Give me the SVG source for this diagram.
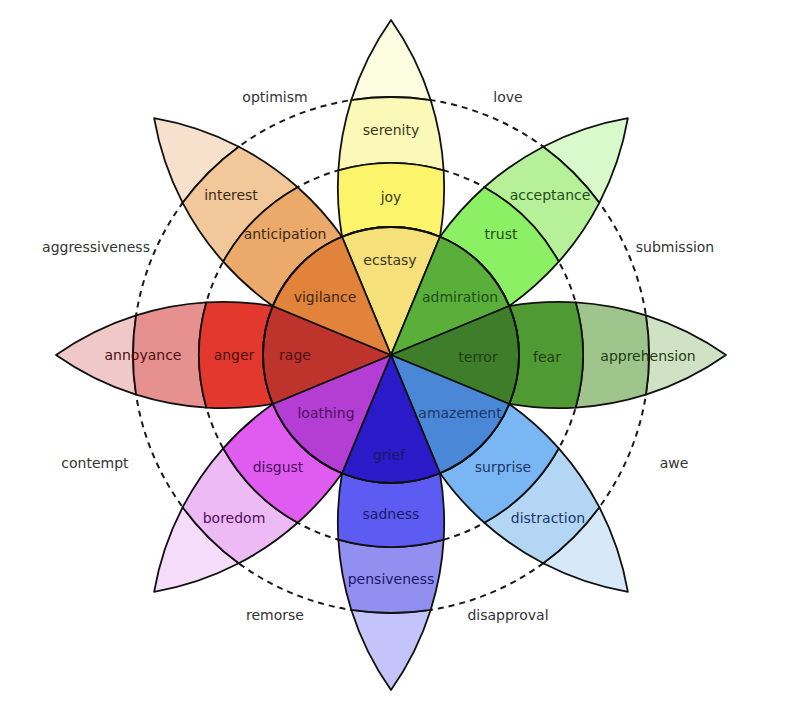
<svg xmlns="http://www.w3.org/2000/svg" xmlns:xlink="http://www.w3.org/1999/xlink" width="788" height="720" viewBox="0 0 788 720">
<style>
.s{stroke:#111;stroke-width:1.8;stroke-linejoin:round}
.ring{fill:none;stroke:#1a1a1a;stroke-width:2;stroke-dasharray:6 5}
text{font-family:"DejaVu Sans","Liberation Sans",sans-serif;font-size:14px;text-anchor:middle}
.o{fill:#333}
.ty{fill:#3a3520}.tg{fill:#1f4d15}.td{fill:#1d3d12}.tb{fill:#1b3766}
.ti{fill:#1a1866}.tp{fill:#4d0f5c}.tr{fill:#4d1010}.to{fill:#3b2815}
</style>
<defs>
<path id="wedge" d="M0,0 L-48.98,-118.26 A128,128 0 0 1 48.98,-118.26 Z"/>
<path id="band1" d="M-48.98,-118.26 A292,292 0 0 1 -52.67,-184.63 A192,192 0 0 1 52.67,-184.63 A292,292 0 0 1 48.98,-118.26 A128,128 0 0 0 -48.98,-118.26 Z"/>
<path id="band2" d="M-52.67,-184.63 A292,292 0 0 1 -39.68,-254.93 A258,258 0 0 1 39.68,-254.93 A292,292 0 0 1 52.67,-184.63 A192,192 0 0 0 -52.67,-184.63 Z"/>
<path id="tip" d="M-39.68,-254.93 A292,292 0 0 1 0,-335 A292,292 0 0 1 39.68,-254.93 A258,258 0 0 0 -39.68,-254.93 Z"/>
</defs>
<rect width="788" height="720" fill="#fff"/>
<g id="rings">
<circle class="ring" cx="391" cy="355" r="258"/>
<circle class="ring" cx="391" cy="355" r="192"/>
</g>
<g id="connectors"/>
<g id="tips">
<use xlink:href="#tip" class="s" fill="#fcfce0" transform="translate(391 355) rotate(0)"/>
<use xlink:href="#tip" class="s" fill="#d8f9c9" transform="translate(391 355) rotate(45)"/>
<use xlink:href="#tip" class="s" fill="#cfe2c4" transform="translate(391 355) rotate(90)"/>
<use xlink:href="#tip" class="s" fill="#d7e8f8" transform="translate(391 355) rotate(135)"/>
<use xlink:href="#tip" class="s" fill="#c5c4fa" transform="translate(391 355) rotate(180)"/>
<use xlink:href="#tip" class="s" fill="#f5dcfa" transform="translate(391 355) rotate(225)"/>
<use xlink:href="#tip" class="s" fill="#f0c8c8" transform="translate(391 355) rotate(270)"/>
<use xlink:href="#tip" class="s" fill="#f7e1cd" transform="translate(391 355) rotate(315)"/>
</g>
<g id="serenity"><use xlink:href="#band2" class="s" fill="#fbf9b8" transform="translate(391 355) rotate(0)"/><text class="ty" x="391" y="135">serenity</text></g>
<g id="acceptance"><use xlink:href="#band2" class="s" fill="#b6f19a" transform="translate(391 355) rotate(45)"/><text class="tg" x="550" y="200">acceptance</text></g>
<g id="apprehension"><use xlink:href="#band2" class="s" fill="#9fc48c" transform="translate(391 355) rotate(90)"/><text class="td" x="648" y="361">apprehension</text></g>
<g id="distraction"><use xlink:href="#band2" class="s" fill="#b4d6f5" transform="translate(391 355) rotate(135)"/><text class="tb" x="548" y="523">distraction</text></g>
<g id="pensiveness"><use xlink:href="#band2" class="s" fill="#9190f0" transform="translate(391 355) rotate(180)"/><text class="ti" x="391" y="584">pensiveness</text></g>
<g id="boredom"><use xlink:href="#band2" class="s" fill="#eebaf5" transform="translate(391 355) rotate(225)"/><text class="tp" x="234" y="523">boredom</text></g>
<g id="annoyance"><use xlink:href="#band2" class="s" fill="#e69090" transform="translate(391 355) rotate(270)"/><text class="tr" x="143" y="360">annoyance</text></g>
<g id="interest"><use xlink:href="#band2" class="s" fill="#f2c89b" transform="translate(391 355) rotate(315)"/><text class="to" x="231" y="200">interest</text></g>
<g id="joy"><use xlink:href="#band1" class="s" fill="#fcf56c" transform="translate(391 355) rotate(0)"/><text class="ty" x="391" y="202">joy</text></g>
<g id="trust"><use xlink:href="#band1" class="s" fill="#8cf064" transform="translate(391 355) rotate(45)"/><text class="tg" x="501" y="239">trust</text></g>
<g id="fear"><use xlink:href="#band1" class="s" fill="#509a33" transform="translate(391 355) rotate(90)"/><text class="td" x="547" y="362">fear</text></g>
<g id="surprise"><use xlink:href="#band1" class="s" fill="#7ab6f4" transform="translate(391 355) rotate(135)"/><text class="tb" x="503" y="472">surprise</text></g>
<g id="sadness"><use xlink:href="#band1" class="s" fill="#5c5cf2" transform="translate(391 355) rotate(180)"/><text class="ti" x="391" y="519">sadness</text></g>
<g id="disgust"><use xlink:href="#band1" class="s" fill="#e05cf0" transform="translate(391 355) rotate(225)"/><text class="tp" x="278" y="472">disgust</text></g>
<g id="anger"><use xlink:href="#band1" class="s" fill="#e2382e" transform="translate(391 355) rotate(270)"/><text class="tr" x="234" y="360">anger</text></g>
<g id="anticipation"><use xlink:href="#band1" class="s" fill="#ebaa69" transform="translate(391 355) rotate(315)"/><text class="to" x="285" y="239">anticipation</text></g>
<g id="ecstasy"><use xlink:href="#wedge" class="s" fill="#f6e07a" transform="translate(391 355) rotate(0)"/><text class="ty" x="390" y="265">ecstasy</text></g>
<g id="admiration"><use xlink:href="#wedge" class="s" fill="#5aaf3a" transform="translate(391 355) rotate(45)"/><text class="tg" x="460" y="302">admiration</text></g>
<g id="terror"><use xlink:href="#wedge" class="s" fill="#3e7e2a" transform="translate(391 355) rotate(90)"/><text class="td" x="478" y="362">terror</text></g>
<g id="amazement"><use xlink:href="#wedge" class="s" fill="#4a87d6" transform="translate(391 355) rotate(135)"/><text class="tb" x="460" y="418">amazement</text></g>
<g id="grief"><use xlink:href="#wedge" class="s" fill="#2a1ac8" transform="translate(391 355) rotate(180)"/><text class="ti" x="389" y="460">grief</text></g>
<g id="loathing"><use xlink:href="#wedge" class="s" fill="#b43ed4" transform="translate(391 355) rotate(225)"/><text class="tp" x="326" y="418">loathing</text></g>
<g id="rage"><use xlink:href="#wedge" class="s" fill="#bf332d" transform="translate(391 355) rotate(270)"/><text class="tr" x="295" y="360">rage</text></g>
<g id="vigilance"><use xlink:href="#wedge" class="s" fill="#e2833b" transform="translate(391 355) rotate(315)"/><text class="to" x="325" y="302">vigilance</text></g>
<circle cx="391" cy="355" r="128" fill="none" class="s"/>
<g id="dyads">
<text class="o" x="275" y="102">optimism</text>
<text class="o" x="508" y="102">love</text>
<text class="o" x="675" y="252">submission</text>
<text class="o" x="96" y="252">aggressiveness</text>
<text class="o" x="95" y="468">contempt</text>
<text class="o" x="674" y="468">awe</text>
<text class="o" x="275" y="620">remorse</text>
<text class="o" x="508" y="620">disapproval</text>
</g>
</svg>
